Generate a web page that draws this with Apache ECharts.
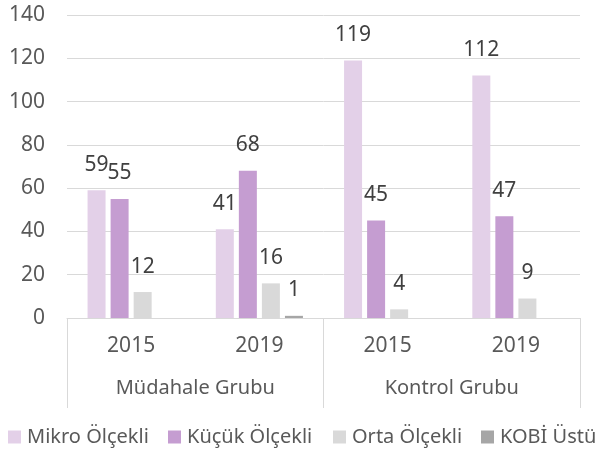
<!DOCTYPE html>
<html>
<head>
<meta charset="utf-8">
<script src="https://cdn.jsdelivr.net/npm/echarts@6/dist/echarts.min.js"></script>
<style>
  html, body { margin: 0; padding: 0; background: #fff; }
  #main { width: 601px; height: 452px; }
</style>
</head>
<body>
<div id="main"></div>
<script>
// veriler
var years = ['2015', '2019', '2015', '2019'];
var groups = ['Müdahale Grubu', 'Kontrol Grubu'];
var seriesNames = ['Mikro Ölçekli', 'Küçük Ölçekli', 'Orta Ölçekli', 'KOBİ Üstü'];
var mikro = [59, 41, 119, 112];
var kucuk = [55, 68, 45, 47];
var orta = [12, 16, 4, 9];
var kobi = [null, 1, null, null];
var colors = ['#E3D0E8', '#C59DD1', '#D9D9D9', '#A6A6A6'];

var fontName = 'Noto Sans';
var legendLeft = [8, 168, 333, 481];

function barSeries(name, data) {
    return {
        name: name,
        type: 'bar',
        xAxisIndex: 0,
        barWidth: 18,
        barGap: '28%',
        data: data,
        label: {
            show: true,
            position: 'top',
            distance: 15,
            color: '#404040',
            fontSize: 21,
            fontFamily: fontName
        }
    };
}

// her lejant öğesi ayrı konumlanıyor
var legends = seriesNames.map(function (name, i) {
    return {
        data: [name],
        left: legendLeft[i],
        top: 427,
        itemWidth: 13,
        itemHeight: 13,
        itemGap: 0,
        padding: 0,
        icon: 'rect',
        textStyle: { color: '#595959', fontSize: 20, fontFamily: fontName, padding: [0, 0, 0, 1] }
    };
});

var myChart = echarts.init(document.getElementById('main'));
var option = {
    animation: false,
    color: colors,
    textStyle: { fontFamily: fontName },
    grid: {
        left: 67,
        right: 21,
        top: 15,
        bottom: 134
    },
    legend: legends,
    xAxis: [{
        type: 'category',
        data: years,
        position: 'bottom',
        axisLine: { lineStyle: { color: '#D9D9D9' } },
        axisTick: { show: false },
        axisLabel: { color: '#595959', fontSize: 21, margin: 18, fontFamily: fontName }
    }, {
        type: 'category',
        data: groups,
        position: 'bottom',
        axisLine: { show: false },
        axisTick: { show: true, length: 90, interval: 0, lineStyle: { color: '#D9D9D9' } },
        axisLabel: { color: '#595959', fontSize: 20, margin: 60, fontFamily: fontName }
    }],
    yAxis: {
        type: 'value',
        min: 0,
        max: 140,
        interval: 20,
        axisLine: { show: false },
        axisTick: { show: false },
        splitLine: { lineStyle: { color: '#D9D9D9' } },
        axisLabel: { color: '#595959', fontSize: 21, margin: 22, fontFamily: fontName }
    },
    series: [
        barSeries(seriesNames[0], mikro),
        barSeries(seriesNames[1], kucuk),
        barSeries(seriesNames[2], orta),
        barSeries(seriesNames[3], kobi)
    ]
};
myChart.setOption(option);
</script>
</body>
</html>
